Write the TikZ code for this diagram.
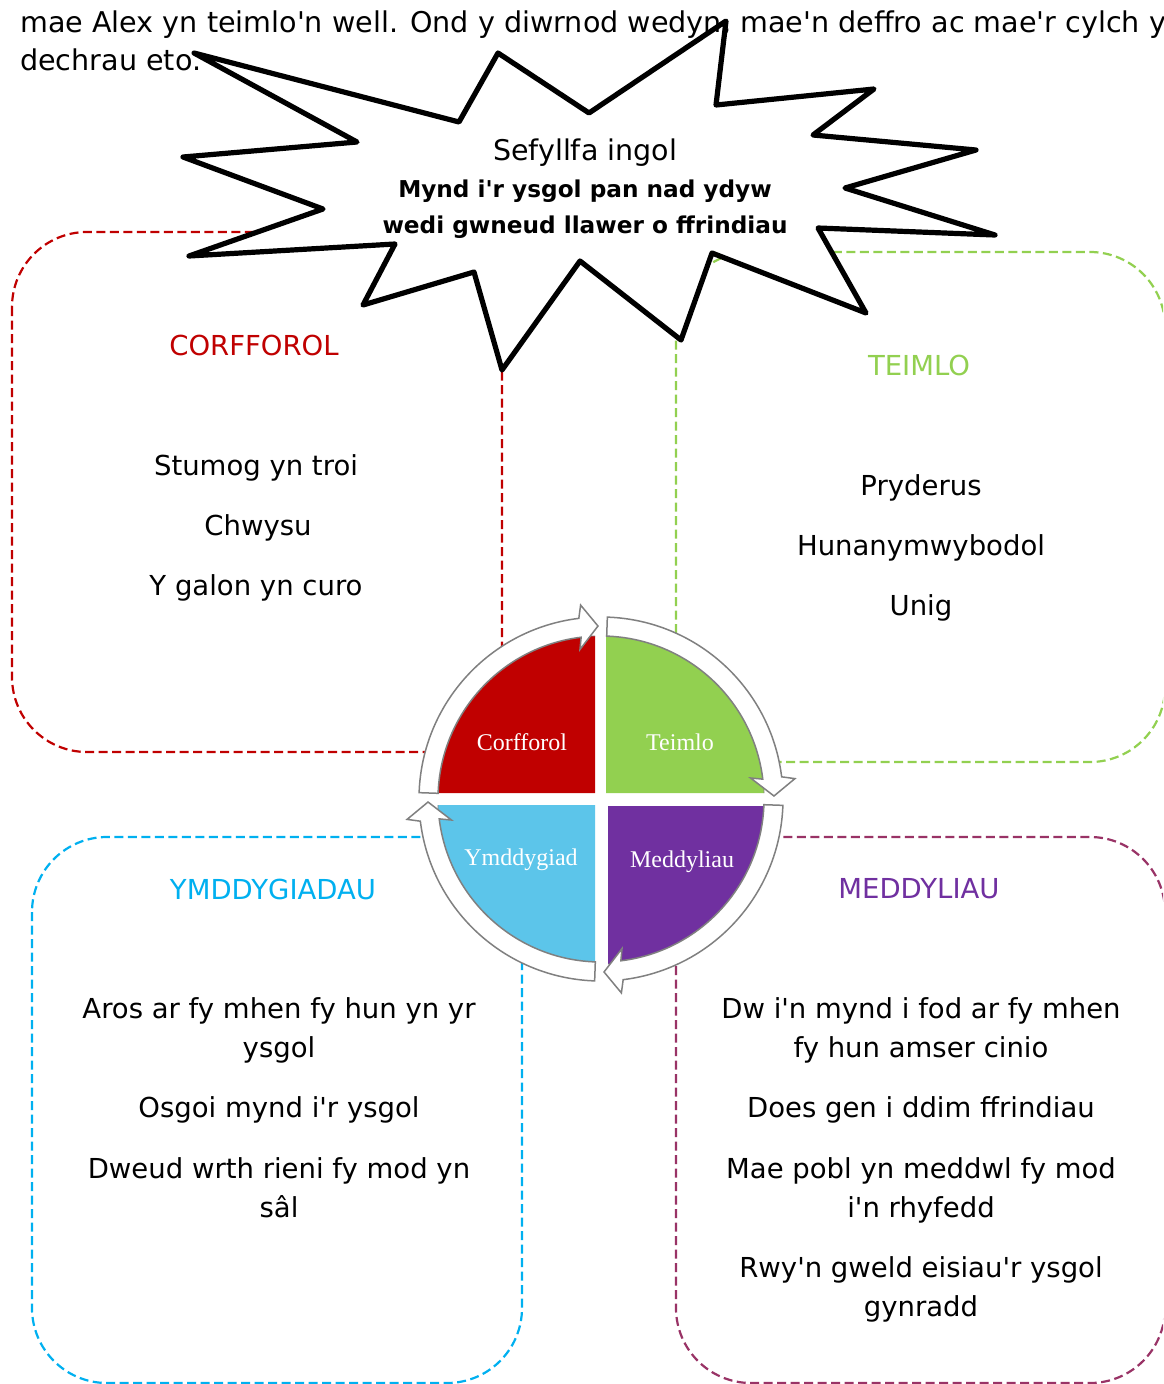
\documentclass[tikz,border=0pt]{standalone}
\usepackage{fontspec}
\setmainfont{DejaVu Sans}[Ligatures=TeXOff]
\newfontfamily\circfont{Liberation Serif}[Ligatures=TeXOff]
\definecolor{cred}{HTML}{C00000}
\definecolor{cgreen}{HTML}{92D050}
\definecolor{cblue}{HTML}{00B0F0}
\definecolor{cbluefill}{HTML}{5CC5EA}
\definecolor{cpurple}{HTML}{7030A0}
\definecolor{cmaroon}{HTML}{993366}
\definecolor{cring}{HTML}{808080}
\begin{document}
\begin{tikzpicture}[x=1pt,y=-1pt,
  box/.style={line width=2.2pt, dash pattern=on 9pt off 4.5pt, rounded corners=75pt},
  toptext/.style={anchor=base west, inner sep=0pt, font=\fontsize{28.6}{33}\selectfont},
  body/.style={anchor=base, inner sep=0pt, font=\fontsize{27.5}{33}\selectfont},
  heading/.style={anchor=base, inner sep=0pt, font=\fontsize{27.5}{33}\selectfont},
  burstbold/.style={anchor=base, inner sep=0pt, font=\fontsize{23.2}{27}\selectfont\bfseries},
  clabel/.style={anchor=base, inner sep=0pt, text=white, font=\circfont\fontsize{24}{28}\selectfont},
  ringarrow/.style={draw=cring, fill=white, line width=1.5pt, line join=miter},
  burst/.style={draw=black, fill=white, line width=5.2pt, line join=round}
]
\useasboundingbox (0,0) rectangle (1163,1384);
\clip (0,0) rectangle (1163,1384);
\fill[white] (0,0) rectangle (1163,1384);

% dashed boxes
\draw[box, cred] (12,232) rectangle (502,752);
\draw[box, cgreen] (676,252) rectangle (1165,762);
\draw[box, cblue] (32,837) rectangle (522,1383);
\draw[box, cmaroon] (676,837) rectangle (1165,1383);

% box texts
\node[heading, text=cred] (hc) at (254,355) {CORFFOROL};
\node[body] (c1) at (256,475) {Stumog yn troi};
\node[body] (c2) at (258,535) {Chwysu};
\node[body] (c3) at (256,595) {Y galon yn curo};

\node[heading, text=cgreen] (ht) at (919,375) {TEIMLO};
\node[body] (t1) at (921,495) {Pryderus};
\node[body] (t2) at (921,555) {Hunanymwybodol};
\node[body] (t3) at (921,615) {Unig};

\node[heading, text=cblue] (hy) at (273,899) {YMDDYGIADAU};
\node[body] (y1) at (279,1018) {Aros ar fy mhen fy hun yn yr};
\node[body] (y2) at (279,1057) {ysgol};
\node[body] (y3) at (279,1117) {Osgoi mynd i'r ysgol};
\node[body] (y4) at (279,1178) {Dweud wrth rieni fy mod yn};
\node[body] (y5) at (279,1217) {sâl};

\node[heading, text=cpurple] (hm) at (919,898) {MEDDYLIAU};
\node[body] (m1) at (921,1018) {Dw i'n mynd i fod ar fy mhen};
\node[body] (m2) at (921,1057) {fy hun amser cinio};
\node[body] (m3) at (921,1117) {Does gen i ddim ffrindiau};
\node[body] (m4) at (921,1178) {Mae pobl yn meddwl fy mod};
\node[body] (m5) at (921,1217) {i'n rhyfedd};
\node[body] (m6) at (921,1277) {Rwy'n gweld eisiau'r ysgol};
\node[body] (m7) at (921,1316) {gynradd};

% starburst
\draw[burst] (194,53) -- (459,122) -- (498,53) -- (589,113) -- (726,21) -- (716,105)
  -- (874,89) -- (813,135) -- (976,150) -- (845,188) -- (995,235) -- (818,228)
  -- (866,313) -- (712,253) -- (681,340) -- (580,261) -- (502,370) -- (474,272)
  -- (363,305) -- (395,244) -- (189,256) -- (323,209) -- (183,157) -- (357,142) -- cycle;
\node[anchor=base, inner sep=0pt, font=\fontsize{28.5}{33}\selectfont] (s1) at (585,160) {Sefyllfa ingol};
\node[burstbold] (s2) at (585,197) {Mynd i'r ysgol pan nad ydyw};
\node[burstbold] (s3) at (585,233) {wedi gwneud llawer o ffrindiau};

% top text
\node[toptext] (top1) at (20,32) {mae Alex yn teimlo'n well. Ond y diwrnod wedyn, mae'n deffro ac mae'r cylch yn};
\node[toptext] (top2) at (20,70) {dechrau eto.};

% cycle diagram
\begin{scope}[shift={(601,799)}, y=1pt]
  \fill[cred] (-6,6) -- (-163,6) arc[start angle=180, end angle=90, radius=157] -- cycle;
  \fill[cgreen] (5,6) -- (5,164) arc[start angle=90, end angle=0, radius=158] -- cycle;
  \fill[cbluefill] (-6,-6) -- (-6,-163) arc[start angle=270, end angle=180, radius=157] -- cycle;
  \fill[cpurple] (7,-7) -- (165,-7) arc[start angle=0, end angle=-90, radius=158] -- cycle;
  \draw[cring, line width=0.8pt] (-163,6) arc[start angle=180, end angle=90, radius=157];
  \draw[cring, line width=0.8pt] (5,164) arc[start angle=90, end angle=0, radius=158];
  \draw[cring, line width=0.8pt] (-6,-163) arc[start angle=270, end angle=180, radius=157];
  \draw[cring, line width=0.8pt] (165,-7) arc[start angle=0, end angle=-90, radius=158];
  \foreach \k in {0,1,2,3}{
    \begin{scope}[rotate=-90*\k]
      \draw[ringarrow] (178:182) arc[start angle=178, end angle=97, radius=182]
        -- (96:195) -- (91:173) -- (98:151) -- (97:163)
        arc[start angle=97, end angle=178, radius=163] -- cycle;
    \end{scope}
  }
\end{scope}
\node[clabel] (lc) at (522,750) {Corfforol};
\node[clabel] (lt) at (680,750) {Teimlo};
\node[clabel] (ly) at (521,865) {Ymddygiad};
\node[clabel] (lm) at (682,867) {Meddyliau};
\end{tikzpicture}
\end{document}
